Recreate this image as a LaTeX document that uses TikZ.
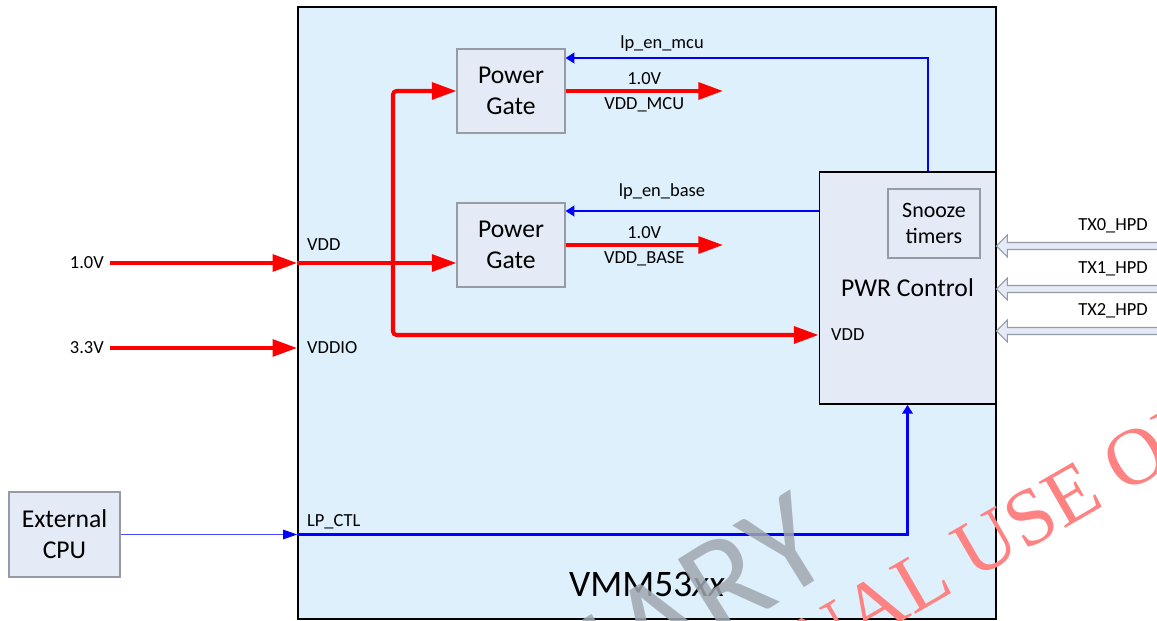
\documentclass[tikz,border=0pt]{standalone}
\usepackage{fontspec}
\setmainfont{Carlito}
\newfontfamily\wmfont{Liberation Serif}
\usetikzlibrary{positioning,arrows.meta,calc}

\definecolor{chipbg}{RGB}{223,240,253}
\definecolor{blockbg}{RGB}{228,235,246}
\definecolor{blockln}{RGB}{150,155,165}
\definecolor{wmgray}{RGB}{160,168,176}
\definecolor{wmred}{RGB}{255,130,130}

\tikzset{
  block/.style={draw=blockln,fill=blockbg,line width=0.6pt,align=center,font=\fontsize{14.6}{18}\selectfont},
  pwr/.style={red,line width=2.3pt,line join=round,-{Triangle[length=14pt,width=9.5pt]}},
  ctl/.style={blue,line width=1.4pt,-{Triangle[length=5pt,width=6pt]}},
  lbl/.style={font=\fontsize{10.5}{12}\selectfont,text=black},
  hollow/.style={draw=blockln,fill=blockbg,line width=0.6pt},
}

\begin{document}
\begin{tikzpicture}[x=0.02cm,y=-0.02cm]
  \useasboundingbox (0,0) rectangle (1157,621);
  \clip (0,0) rectangle (1157,621);
  % chip
  \node[draw,fill=chipbg,line width=1.1pt,minimum width=13.96cm,minimum height=12.24cm,inner sep=0pt] (vmm) at (647,313) {};
  \node[font=\fontsize{21.3}{24}\selectfont] (chipname) at (647,584) {VMM53\textit{xx}};

  % blocks
  \node[block,minimum width=2.16cm,minimum height=1.68cm] (pg1) at (511,91) {Power\\Gate};
  \node[block,minimum width=2.16cm,minimum height=1.68cm] (pg2) at (511,245) {Power\\Gate};
  \node[block,draw=black,line width=1.1pt,minimum width=3.52cm,minimum height=4.64cm] (pwr) at (907.5,288) {PWR Control};
  \node[block,font=\fontsize{12.5}{15.3}\selectfont,minimum width=1.84cm,minimum height=1.38cm] (snz) at (934,223.5) {Snooze\\timers};
  \node[block,font=\fontsize{14.6}{17.6}\selectfont,minimum width=2.22cm,minimum height=1.70cm] (cpu) at (64.5,534.5) {External\\CPU};

  % pin labels
  \node[lbl,anchor=east] (v10) at (110,263) {1.0V};
  \node[lbl,anchor=east] (v33) at (110,348) {3.3V};
  \node[lbl,anchor=west] (vddin) at (301,245) {VDD};
  \node[lbl,anchor=west] (vddio) at (301,348) {VDDIO};
  \node[lbl,anchor=west] (lpctl) at (301,522) {LP\_CTL};
  \node[lbl,anchor=west] (pvdd) at (825,335) {VDD};
  \node[lbl] (enmlbl) at (662,44) {lp\_en\_mcu};
  \node[lbl] (enblbl) at (662,192) {lp\_en\_base};

  \coordinate (br) at (393,263);
  \coordinate (mcu) at (723,91);
  \coordinate (base) at (723,245);
  \coordinate (enm) at (928,58);
  \coordinate (enb) at (700,211);

  % supplies
  \draw[pwr] (v10.east) -- (v10.east -| vmm.west);
  \draw[pwr] (v33.east) -- (v33.east -| vmm.west);
  \draw[pwr] (v10.east -| vmm.west) -- (pg2.west |- v10);
  \draw[pwr,rounded corners=2pt] (br) |- (pg1.west);
  \draw[pwr,rounded corners=2pt] (br) |- (pwr.west |- pvdd);
  \draw[pwr] (pg1.east) -- (mcu) node[lbl,midway,above=-1pt]{1.0V} node[lbl,midway,below=-1pt]{VDD\_MCU};
  \draw[pwr] (pg2.east) -- (base) node[lbl,midway,above=-1pt]{1.0V} node[lbl,midway,below=-1pt]{VDD\_BASE};

  % control
  \draw[ctl,line width=1.2pt] (pwr.north -| enm) |- (pg1.east |- enm);
  \draw[ctl,line width=1.2pt] (pwr.west |- enb) -- (pg2.east |- enb);
  \draw[blue!70,line width=0.4pt,-{Triangle[length=8pt,width=5.5pt,color=blue]}] (cpu.east) -- (cpu.east -| vmm.west);
  \draw[ctl] (cpu.east -| vmm.west) -| (pwr.south);

  % hot plug inputs
  \foreach \i/\yy in {0/246,1/289,2/331}{
    \coordinate (txin\i) at (1160,\yy);
    \node[lbl,anchor=east] (tx\i) at (1154,\yy-20) {TX\i\_HPD};
    \draw[hollow,shift={(pwr.east |- txin\i)}] (0,0) -- (11,-11) -- (11,-3.5) -- (175,-3.5) -- (175,3.5) -- (11,3.5) -- (11,11) -- cycle;
  }

  % watermark
  \node[font=\fontsize{80}{80}\selectfont,text=wmgray,opacity=0.85,rotate=32,anchor=base east] (prelim) at (844,563) {PRELIMINARY};
  \node[font=\wmfont\fontsize{46}{46}\selectfont,text=wmred,rotate=30,anchor=base west] (internal) at (601,796) {INTERNAL USE ONLY};
\end{tikzpicture}
\end{document}
